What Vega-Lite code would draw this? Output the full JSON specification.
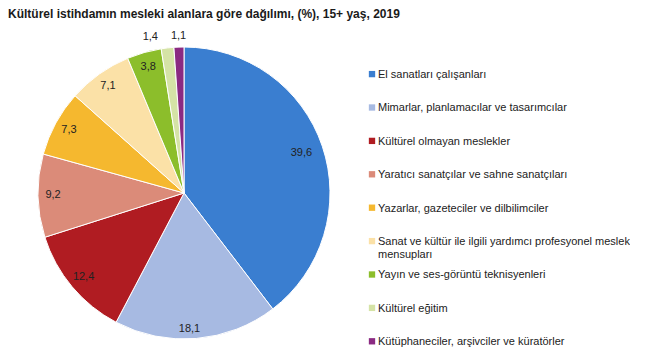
{
  "$schema": "https://vega.github.io/schema/vega-lite/v6.json",
  "padding": {"left": 0, "top": 8, "right": 0, "bottom": 0},
  "background": "white",
  "spacing": 0,
  "title": {
    "text": "Kültürel istihdamın mesleki alanlara göre dağılımı, (%), 15+ yaş, 2019",
    "anchor": "start",
    "frame": "group",
    "dx": 8,
    "offset": 5,
    "font": "Liberation Sans",
    "fontSize": 12,
    "fontWeight": "bold",
    "color": "#1a1a1a"
  },
  "config": {"view": {"stroke": null}},
  "data": {
    "values": [
      {"o": 1, "cat": "El sanatları çalışanları", "leg": "El sanatları çalışanları", "pct": 39.6, "label": "39,6"},
      {"o": 2, "cat": "Mimarlar, planlamacılar ve tasarımcılar", "leg": "Mimarlar, planlamacılar ve tasarımcılar", "pct": 18.1, "label": "18,1"},
      {"o": 3, "cat": "Kültürel olmayan meslekler", "leg": "Kültürel olmayan meslekler", "pct": 12.4, "label": "12,4"},
      {"o": 4, "cat": "Yaratıcı sanatçılar ve sahne sanatçıları", "leg": "Yaratıcı sanatçılar ve sahne sanatçıları", "pct": 9.2, "label": "9,2"},
      {"o": 5, "cat": "Yazarlar, gazeteciler ve dilbilimciler", "leg": "Yazarlar, gazeteciler ve dilbilimciler", "pct": 7.3, "label": "7,3"},
      {"o": 6, "cat": "Sanat ve kültür ile ilgili yardımcı profesyonel meslek mensupları", "leg": "Sanat ve kültür ile ilgili yardımcı profesyonel meslek\nmensupları", "pct": 7.1, "label": "7,1"},
      {"o": 7, "cat": "Yayın ve ses-görüntü teknisyenleri", "leg": "Yayın ve ses-görüntü teknisyenleri", "pct": 3.8, "label": "3,8"},
      {"o": 8, "cat": "Kültürel eğitim", "leg": "Kültürel eğitim", "pct": 1.4, "label": "1,4"},
      {"o": 9, "cat": "Kütüphaneciler, arşivciler ve küratörler", "leg": "Kütüphaneciler, arşivciler ve küratörler", "pct": 1.1, "label": "1,1"}
    ]
  },
  "hconcat": [
    {
      "width": 368,
      "height": 334,
      "encoding": {
        "theta": {"field": "pct", "type": "quantitative", "stack": true},
        "order": {"field": "o", "type": "quantitative"}
      },
      "layer": [
        {
          "mark": {"type": "arc", "radius": 146, "stroke": "white", "strokeWidth": 1},
          "encoding": {
            "color": {
              "field": "o",
              "type": "ordinal",
              "scale": {
                "domain": [1, 2, 3, 4, 5, 6, 7, 8, 9],
                "range": ["#3A7ED0", "#A7BAE2", "#B01C22", "#DB8B79", "#F5B82F", "#FBE1A7", "#8CBE2B", "#D5E3A6", "#8B2A82"]
              },
              "legend": null
            }
          }
        },
        {
          "mark": {"type": "text", "radius": 131, "font": "Liberation Sans", "fontSize": 11, "fill": "#222222"},
          "encoding": {
            "text": {"condition": {"test": "datum.o >= 3 && datum.o <= 7", "field": "label"}, "value": ""}
          }
        },
        {
          "mark": {"type": "text", "radius": 124, "font": "Liberation Sans", "fontSize": 11, "fill": "#222222"},
          "encoding": {
            "text": {"condition": {"test": "datum.o == 1", "field": "label"}, "value": ""}
          }
        },
        {
          "mark": {"type": "text", "radius": 136, "dx": -6, "font": "Liberation Sans", "fontSize": 11, "fill": "#222222"},
          "encoding": {
            "text": {"condition": {"test": "datum.o == 2", "field": "label"}, "value": ""}
          }
        },
        {
          "mark": {"type": "text", "radius": 157, "font": "Liberation Sans", "fontSize": 11, "fill": "#222222"},
          "encoding": {
            "text": {"condition": {"test": "datum.o == 9", "field": "label"}, "value": ""}
          }
        },
        {
          "mark": {"type": "text", "radius": 157, "dx": -16, "font": "Liberation Sans", "fontSize": 11, "fill": "#222222"},
          "encoding": {
            "text": {"condition": {"test": "datum.o == 8", "field": "label"}, "value": ""}
          }
        }
      ]
    },
    {
      "width": 6,
      "height": 334,
      "encoding": {
        "y": {
          "field": "o",
          "type": "ordinal",
          "axis": null,
          "scale": {"type": "point", "padding": 1.08, "align": 0.72}
        }
      },
      "layer": [
        {
          "mark": {"type": "point", "shape": "square", "filled": true, "size": 40, "opacity": 1, "strokeWidth": 0},
          "encoding": {
            "color": {
              "field": "o",
              "type": "ordinal",
              "scale": {
                "domain": [1, 2, 3, 4, 5, 6, 7, 8, 9],
                "range": ["#3A7ED0", "#A7BAE2", "#B01C22", "#DB8B79", "#F5B82F", "#FBE1A7", "#8CBE2B", "#D5E3A6", "#8B2A82"]
              },
              "legend": null
            }
          }
        },
        {
          "mark": {"type": "text", "align": "left", "baseline": "alphabetic", "dx": 6, "dy": 4, "lineBreak": "\n", "lineHeight": 13, "font": "Liberation Sans", "fontSize": 11, "fill": "#222222"},
          "encoding": {
            "text": {"field": "leg", "type": "nominal"}
          }
        }
      ]
    }
  ]
}
